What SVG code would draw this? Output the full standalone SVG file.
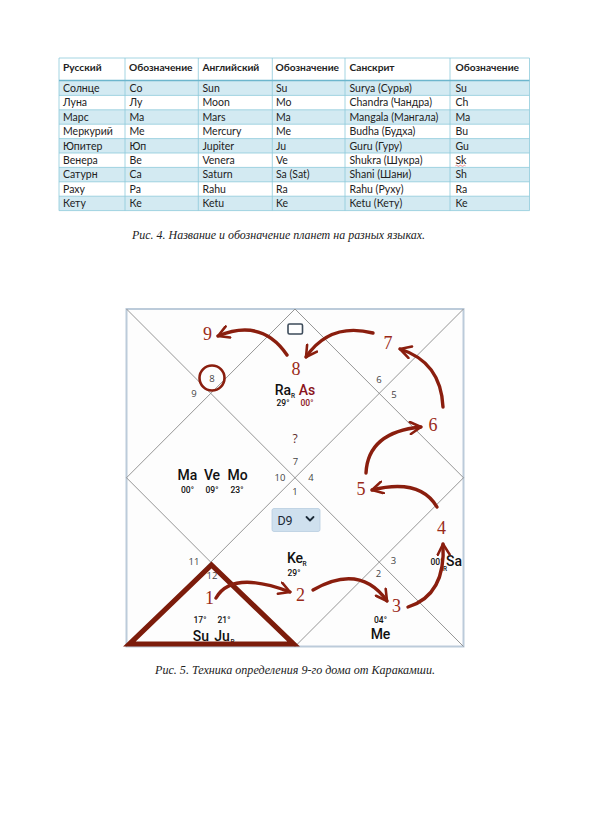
<svg xmlns="http://www.w3.org/2000/svg" width="591" height="839" viewBox="0 0 591 839">
<defs>
<style>
.tb{font-family:Lato,"Liberation Sans",sans-serif;font-size:10.5px;fill:#222}
.th{font-family:Lato,"Liberation Sans",sans-serif;font-size:10.2px;font-weight:bold;fill:#222}
.cap{font-family:"Liberation Serif",serif;font-style:italic;font-size:13px;fill:#222}
.hn{font-family:"Open Sans","Liberation Sans",sans-serif;font-size:9.5px;fill:#444;text-anchor:middle}
.pl{font-family:Roboto,"Liberation Sans",sans-serif;font-weight:500;font-size:14px;fill:#111;text-anchor:middle}
.dg{font-family:Roboto,"Liberation Sans",sans-serif;font-weight:500;font-size:8.5px;fill:#111;text-anchor:middle}
.sb{font-family:Roboto,"Liberation Sans",sans-serif;font-weight:500;font-size:6.5px;fill:#111}
.rn{font-family:"Liberation Serif",serif;font-size:18px;fill:#9a2a18;text-anchor:middle}
.arr{fill:none;stroke:#8a1e0e;stroke-width:3.4;stroke-linecap:round;marker-end:url(#ah)}
.grid{stroke:#8a8a8a;stroke-width:0.9;fill:none}
</style>
<marker id="ah" viewBox="0 0 10 10" refX="8.5" refY="5" markerWidth="4.2" markerHeight="4.2" orient="auto" markerUnits="strokeWidth">
<path d="M1,0.8 L8.5,5 L1,9.2" fill="none" stroke="#8a1e0e" stroke-width="1.8" stroke-linecap="round" stroke-linejoin="round"/>
</marker>
</defs>
<rect width="591" height="839" fill="#fff"/>

<g id="table">
<rect x="59" y="81" width="470.5" height="14.4" fill="#d3eaf2"/>
<rect x="59" y="109.8" width="470.5" height="14.4" fill="#d3eaf2"/>
<rect x="59" y="138.6" width="470.5" height="14.4" fill="#d3eaf2"/>
<rect x="59" y="167.4" width="470.5" height="14.4" fill="#d3eaf2"/>
<rect x="59" y="196.2" width="470.5" height="14.4" fill="#d3eaf2"/>
<g stroke="#8ecadb" stroke-width="0.8">
<line x1="59" y1="58" x2="529.5" y2="58"/>
<line x1="59" y1="95.4" x2="529.5" y2="95.4"/>
<line x1="59" y1="109.8" x2="529.5" y2="109.8"/>
<line x1="59" y1="124.2" x2="529.5" y2="124.2"/>
<line x1="59" y1="138.6" x2="529.5" y2="138.6"/>
<line x1="59" y1="153" x2="529.5" y2="153"/>
<line x1="59" y1="167.4" x2="529.5" y2="167.4"/>
<line x1="59" y1="181.8" x2="529.5" y2="181.8"/>
<line x1="59" y1="196.2" x2="529.5" y2="196.2"/>
<line x1="59" y1="210.6" x2="529.5" y2="210.6"/>
<line x1="59" y1="58" x2="59" y2="210.6"/>
<line x1="125" y1="58" x2="125" y2="210.6"/>
<line x1="198.3" y1="58" x2="198.3" y2="210.6"/>
<line x1="272.3" y1="58" x2="272.3" y2="210.6"/>
<line x1="345" y1="58" x2="345" y2="210.6"/>
<line x1="450" y1="58" x2="450" y2="210.6"/>
<line x1="529.5" y1="58" x2="529.5" y2="210.6"/>
</g>
<line x1="59" y1="80.5" x2="529.5" y2="80.5" stroke="#6db6cd" stroke-width="1.5"/>
<text class="th" y="70.5"><tspan x="63">Русский</tspan><tspan x="129">Обозначение</tspan><tspan x="202.5">Английский</tspan><tspan x="275.5">Обозначение</tspan><tspan x="349.5">Санскрит</tspan><tspan x="455.5">Обозначение</tspan></text>
<text class="tb" y="92"><tspan x="63">Солнце</tspan><tspan x="129.5">Со</tspan><tspan x="202.5">Sun</tspan><tspan x="276">Su</tspan><tspan x="349.5">Surya (Сурья)</tspan><tspan x="455.5">Su</tspan></text>
<text class="tb" y="106.3"><tspan x="63">Луна</tspan><tspan x="129.5">Лу</tspan><tspan x="202.5">Moon</tspan><tspan x="276">Mo</tspan><tspan x="349.5">Chandra (Чандра)</tspan><tspan x="455.5">Ch</tspan></text>
<text class="tb" y="120.7"><tspan x="63">Марс</tspan><tspan x="129.5">Ма</tspan><tspan x="202.5">Mars</tspan><tspan x="276">Ma</tspan><tspan x="349.5">Mangala (Мангала)</tspan><tspan x="455.5">Ma</tspan></text>
<text class="tb" y="135.1"><tspan x="63">Меркурий</tspan><tspan x="129.5">Ме</tspan><tspan x="202.5">Mercury</tspan><tspan x="276">Me</tspan><tspan x="349.5">Budha (Будха)</tspan><tspan x="455.5">Bu</tspan></text>
<text class="tb" y="149.5"><tspan x="63">Юпитер</tspan><tspan x="129.5">Юп</tspan><tspan x="202.5">Jupiter</tspan><tspan x="276">Ju</tspan><tspan x="349.5">Guru (Гуру)</tspan><tspan x="455.5">Gu</tspan></text>
<text class="tb" y="163.9"><tspan x="63">Венера</tspan><tspan x="129.5">Ве</tspan><tspan x="202.5">Venera</tspan><tspan x="276">Ve</tspan><tspan x="349.5">Shukra (Шукра)</tspan><tspan x="455.5">Sk</tspan></text>
<path d="M455.5,165.8 q1,-1 2,0 t2,0 t2,0 t2,0 t2,0" fill="none" stroke="#e04040" stroke-width="0.6"/>
<text class="tb" y="178.3"><tspan x="63">Сатурн</tspan><tspan x="129.5">Са</tspan><tspan x="202.5">Saturn</tspan><tspan x="276">Sa (Sat)</tspan><tspan x="349.5">Shani (Шани)</tspan><tspan x="455.5">Sh</tspan></text>
<text class="tb" y="192.7"><tspan x="63">Раху</tspan><tspan x="129.5">Ра</tspan><tspan x="202.5">Rahu</tspan><tspan x="276">Ra</tspan><tspan x="349.5">Rahu (Руху)</tspan><tspan x="455.5">Ra</tspan></text>
<text class="tb" y="207.1"><tspan x="63">Кету</tspan><tspan x="129.5">Ке</tspan><tspan x="202.5">Ketu</tspan><tspan x="276">Ke</tspan><tspan x="349.5">Ketu (Кету)</tspan><tspan x="455.5">Ke</tspan></text>
</g>

<text id="caption4" class="cap" x="132" y="238.5" textLength="293" lengthAdjust="spacingAndGlyphs">Рис. 4. Название и обозначение планет на разных языках.</text>

<g id="chart">
<rect x="126.5" y="309" width="337" height="337.5" fill="#fdfdfd" stroke="#bccbda" stroke-width="2"/>
<g class="grid">
<line x1="126.5" y1="309" x2="463.5" y2="646.5"/>
<line x1="463.5" y1="309" x2="126.5" y2="646.5"/>
<polygon points="295,309 463.5,477.75 295,646.5 126.5,477.75"/>
</g>
</g>

<g id="house-numbers">
<text class="hn" x="194" y="397">9</text>
<text class="hn" x="212" y="381.5">8</text>
<text class="hn" x="379" y="382.5">6</text>
<text class="hn" x="394" y="397.5">5</text>
<text class="hn" x="295.5" y="465">7</text>
<text class="hn" x="280" y="480.5">10</text>
<text class="hn" x="311" y="480.5">4</text>
<text class="hn" x="295" y="495">1</text>
<text class="hn" x="194" y="565">11</text>
<text class="hn" x="212" y="579">12</text>
<text class="hn" x="378.5" y="576.5">2</text>
<text class="hn" x="393.5" y="564">3</text>
<text x="295" y="443" style="font-family:'Open Sans',sans-serif;font-size:12px;fill:#5b2c2c;text-anchor:middle">?</text>
</g>

<g id="icon-box">
<rect x="288" y="324" width="14.5" height="10" rx="1.5" fill="#fff" stroke="#3d4b5a" stroke-width="1.6"/>
</g>

<g id="planets-h1">
<text class="pl" x="283" y="395">Ra</text><text class="sb" x="291" y="398">R</text>
<text class="dg" x="283" y="405.5">29°</text>
<text class="pl" x="307" y="395" style="fill:#8a1420">As</text>
<text class="dg" x="307" y="405.5" style="fill:#8a1420">00°</text>
</g>
<g id="planets-h10">
<text class="pl" x="187.5" y="480">Ma</text>
<text class="pl" x="212" y="480">Ve</text>
<text class="pl" x="237.5" y="480">Mo</text>
<text class="dg" x="187.5" y="492.5">00°</text>
<text class="dg" x="212" y="492.5">09°</text>
<text class="dg" x="237" y="492.5">23°</text>
</g>
<g id="dropdown">
<rect x="272" y="508.5" width="48" height="23" rx="2" fill="#cfe0ee" stroke="#b8cde0" stroke-width="0.8"/>
<text x="285" y="524.5" style="font-family:Roboto,'Liberation Sans',sans-serif;font-size:12.5px;fill:#1c2a38;text-anchor:middle">D9</text>
<polyline points="306.5,517 310,520.5 313.5,517" fill="none" stroke="#1c2a38" stroke-width="1.8" stroke-linecap="round" stroke-linejoin="round"/>
</g>
<g id="planets-h2">
<text class="pl" x="295" y="563">Ke</text><text class="sb" x="302.5" y="566">R</text>
<text class="dg" x="294" y="576">29°</text>
</g>
<g id="planets-h4">
<text class="dg" x="437" y="565">00°</text><text class="sb" x="443" y="570.5">R</text>
<text class="pl" x="454" y="566">Sa</text>
</g>
<g id="planets-h3">
<text class="dg" x="380.5" y="622.5">04°</text>
<text class="pl" x="380.5" y="638.5">Me</text>
</g>
<g id="planets-h12">
<text class="dg" x="200" y="622.5">17°</text>
<text class="dg" x="224" y="622.5">21°</text>
<text class="pl" x="201" y="641">Su</text>
<text class="pl" x="222" y="641">Ju</text><text class="sb" x="230.5" y="644">R</text>
</g>

<g id="highlight">
<polygon points="211.5,565 129.5,644 293.5,644" fill="none" stroke="#7c1c0b" stroke-width="5.2" stroke-linejoin="miter"/>
<circle cx="212" cy="378" r="12.5" fill="none" stroke="#8a1e0e" stroke-width="2.6"/>
</g>

<g id="red-labels">
<text class="rn" x="207.5" y="340">9</text>
<text class="rn" x="296" y="374.5">8</text>
<text class="rn" x="388" y="349">7</text>
<text class="rn" x="433" y="431">6</text>
<text class="rn" x="361" y="494.5">5</text>
<text class="rn" x="441.5" y="534">4</text>
<text class="rn" x="396.5" y="612">3</text>
<text class="rn" x="300.5" y="600.5">2</text>
<text class="rn" x="209.5" y="604">1</text>
</g>

<g id="connectors">
<path class="arr" d="M287,355 Q262,318 218,336"/>
<path class="arr" d="M373,333 Q330,322 306,357"/>
<path class="arr" d="M443,407 Q441,362 400,349"/>
<path class="arr" d="M366,473 Q368,432 421,427"/>
<path class="arr" d="M437,507 Q420,478 372,490"/>
<path class="arr" d="M408,607 Q446,595 443,544"/>
<path class="arr" d="M313,590 Q360,563 387,601"/>
<path class="arr" d="M216,598 Q232,570 290,592"/>
</g>

<text id="caption5" class="cap" x="155" y="674" textLength="280" lengthAdjust="spacingAndGlyphs">Рис. 5. Техника определения 9-го дома от Каракамши.</text>
</svg>
